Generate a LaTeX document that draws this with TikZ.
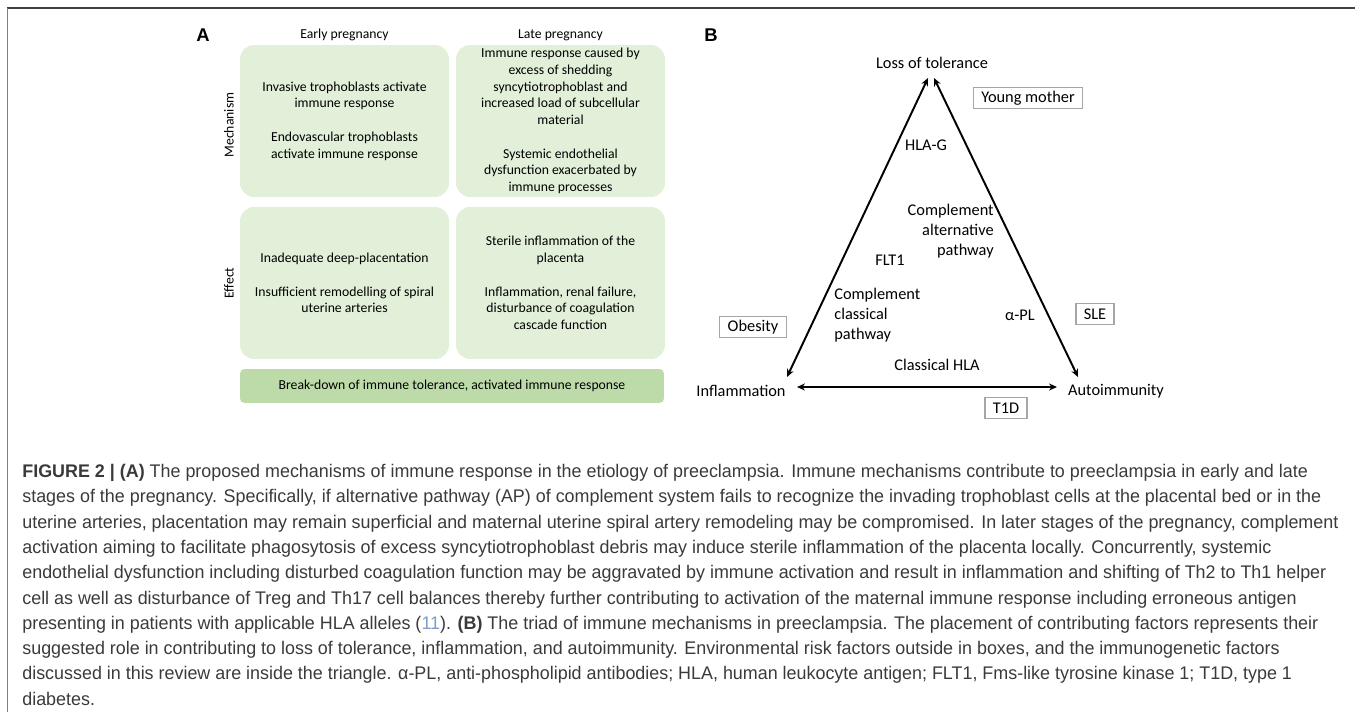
\documentclass[tikz,border=0pt]{standalone}
\usepackage{fontspec}
\setmainfont{Carlito}
\newfontfamily\capfont[FakeStretch=0.98]{Liberation Sans}
\newfontfamily\panelfont{Liberation Sans}
\usetikzlibrary{arrows.meta,positioning}
\definecolor{cellgreen}{HTML}{E2EFD9}
\definecolor{bargreen}{HTML}{BDDBA9}
\definecolor{boxgray}{HTML}{A6A6A6}
\definecolor{captext}{HTML}{3A3A3A}
\definecolor{reflink}{HTML}{7F9CC4}
\tikzset{
  cell/.style={fill=cellgreen, rounded corners=8pt, minimum width=4.18cm, minimum height=3.04cm,
    align=center, inner sep=0pt, font=\fontsize{7.8}{9.5}\selectfont},
  head/.style={inner sep=0pt, font=\fontsize{7.8}{9.5}\selectfont},
  factor/.style={inner sep=0pt, font=\fontsize{9.3}{11.4}\selectfont},
  risk/.style={draw=boxgray, line width=0.7pt, inner xsep=4.5pt, inner ysep=0pt,
    minimum height=12pt, font=\fontsize{9.3}{11.4}\selectfont},
  panel/.style={inner sep=0pt, font=\panelfont\bfseries\fontsize{10.5}{12}\selectfont},
  link/.style={line width=1.1pt, >={Stealth[length=4.5pt,width=4pt]}, <->}
}
\begin{document}
\begin{tikzpicture}[x=0.02cm, y=-0.02cm]
  \useasboundingbox (0,0) rectangle (1355,712);
  \draw [line width=1.2pt, black!75] (7,8) -- (1355,8);
  \draw [line width=0.9pt, black!50] (7.5,8) -- (7.5,712);

  \node [panel] (A) at (203,35) {A};
  \node [cell] (mechEarly) at (344.5,121) {Invasive trophoblasts activate\\immune response\\[9.5pt]Endovascular trophoblasts\\activate immune response};
  \node [cell] (mechLate) at (560.5,121) {Immune response caused by\\excess of shedding\\syncytiotrophoblast and\\increased load of subcellular\\material\\[9.5pt]Systemic endothelial\\dysfunction exacerbated by\\immune processes};
  \node [cell] (effEarly) at (344.5,283) {Inadequate deep-placentation\\[9.5pt]Insufficient remodelling of spiral\\uterine arteries};
  \node [cell] (effLate) at (560.5,283) {Sterile inflammation of the\\placenta\\[9.5pt]Inflammation, renal failure,\\disturbance of coagulation\\cascade function};
  \node [head, above=2pt of mechEarly] (early) {Early pregnancy};
  \node [head, above=2pt of mechLate] (late) {Late pregnancy};
  \node [head, rotate=90] (mech) at (229,125) {Mechanism};
  \node [head, rotate=90] (eff) at (229,283) {Effect};
  \node [fill=bargreen, rounded corners=2.5pt, minimum width=8.48cm, minimum height=0.68cm,
    inner sep=0pt, font=\fontsize{7.8}{9.5}\selectfont] (bar) at (452,386)
    {Break-down of immune tolerance, activated immune response};

  \node [panel] (B) at (711,35) {B};
  \node [factor] (tol) at (932,63) {Loss of tolerance};
  \node [factor] (infl) at (741,391) {Inflammation};
  \node [factor] (auto) at (1116,391) {Autoimmunity};
  \coordinate (apexL) at (928,78);
  \coordinate (apexR) at (934,78);
  \coordinate (inflTip) at (787,377);
  \coordinate (autoTip) at (1078,377);
  \coordinate (inflEnd) at (797,387);
  \coordinate (autoEnd) at (1057,387);
  \draw [link] (apexL) -- (inflTip);
  \draw [link] (apexR) -- (autoTip);
  \draw [link] (inflEnd) -- (autoEnd);
  \node [risk] (young) at (1028,98) {Young mother};
  \node [risk] (obes) at (753,327) {Obesity};
  \node [risk] (sle) at (1095,314) {SLE};
  \node [risk] (tid) at (1006,408) {T1D};
  \node [factor] (hlag) at (926,145) {HLA-G};
  \node [factor, align=right, anchor=east] (altp) at (994,231) {Complement\\alternative\\pathway};
  \node [factor] (flt) at (890,260) {FLT1};
  \node [factor, align=left, anchor=west] (clsp) at (834,315) {Complement\\classical\\pathway};
  \node [factor] (apl) at (1020,315) {α-PL};
  \node [factor] (chla) at (937,365) {Classical HLA};

  \node [anchor=north west, align=left, inner sep=0pt, text=captext,
    font=\capfont\fontsize{10.4}{14.4}\selectfont] (caption) at (22,464)
    {\textbf{FIGURE 2 | (A)} The proposed mechanisms of immune response in the etiology of preeclampsia. Immune mechanisms contribute to preeclampsia in early and late\\
    stages of the pregnancy. Specifically, if alternative pathway (AP) of complement system fails to recognize the invading trophoblast cells at the placental bed or in the\\
    uterine arteries, placentation may remain superficial and maternal uterine spiral artery remodeling may be compromised. In later stages of the pregnancy, complement\\
    activation aiming to facilitate phagosytosis of excess syncytiotrophoblast debris may induce sterile inflammation of the placenta locally. Concurrently, systemic\\
    endothelial dysfunction including disturbed coagulation function may be aggravated by immune activation and result in inflammation and shifting of Th2 to Th1 helper\\
    cell as well as disturbance of Treg and Th17 cell balances thereby further contributing to activation of the maternal immune response including erroneous antigen\\
    presenting in patients with applicable HLA alleles ({\color{reflink}11}). \textbf{(B)} The triad of immune mechanisms in preeclampsia. The placement of contributing factors represents their\\
    suggested role in contributing to loss of tolerance, inflammation, and autoimmunity. Environmental risk factors outside in boxes, and the immunogenetic factors\\
    discussed in this review are inside the triangle. α-PL, anti-phospholipid antibodies; HLA, human leukocyte antigen; FLT1, Fms-like tyrosine kinase 1; T1D, type 1\\
    diabetes.};
\end{tikzpicture}
\end{document}
